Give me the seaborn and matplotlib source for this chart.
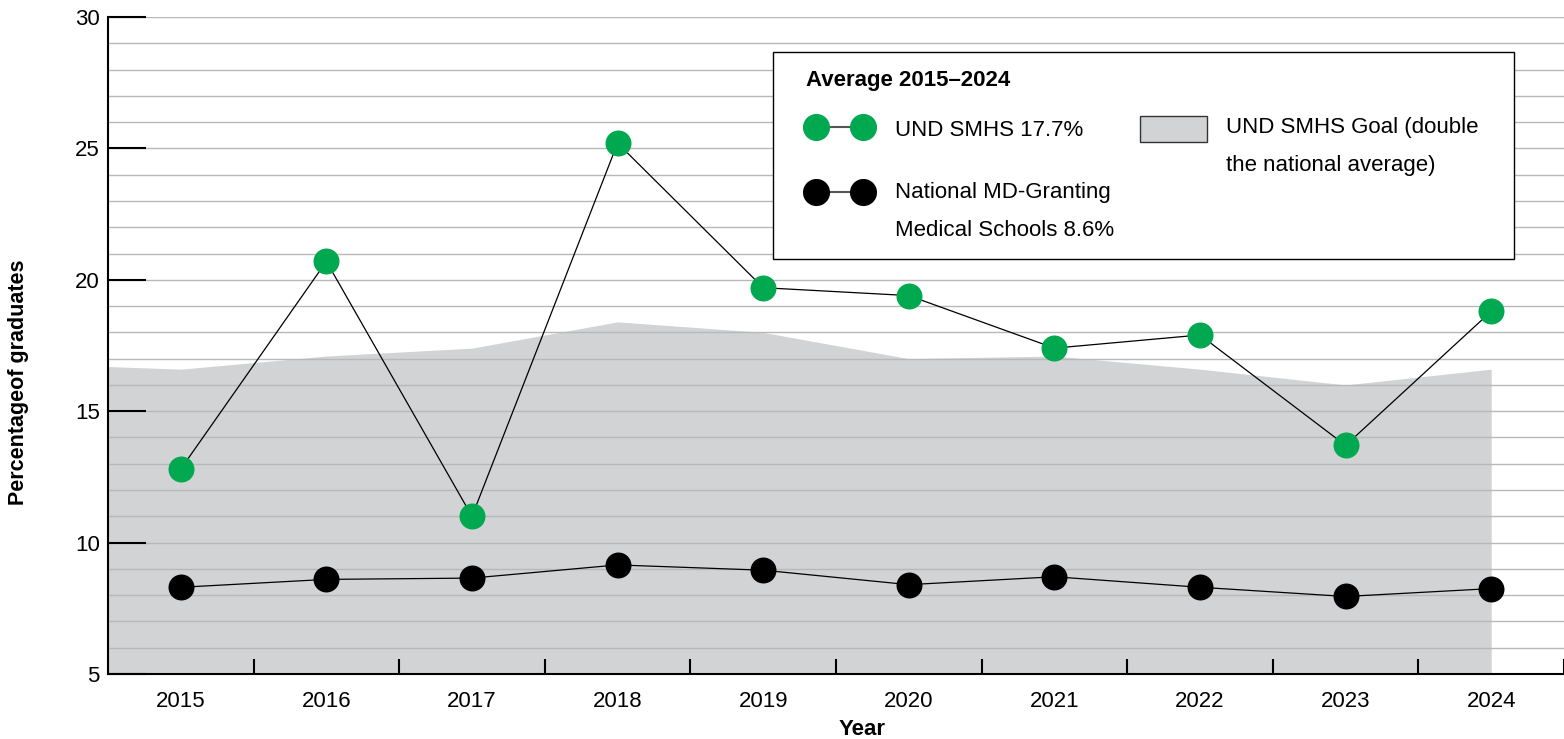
import matplotlib
matplotlib.use("Agg")
import matplotlib.pyplot as plt
import seaborn as sns
import pandas as pd
import numpy as np
from matplotlib.lines import Line2D
from matplotlib.patches import Patch, Rectangle
from matplotlib.legend_handler import HandlerLine2D, HandlerPatch
from matplotlib.ticker import MultipleLocator

# ---- data ----
years = [2015, 2016, 2017, 2018, 2019, 2020, 2021, 2022, 2023, 2024]
und_smhs = [12.8, 20.7, 11.0, 25.2, 19.7, 19.4, 17.4, 17.9, 13.7, 18.8]
national = [8.3, 8.6, 8.65, 9.15, 8.95, 8.4, 8.7, 8.3, 7.95, 8.25]
goal = [16.6, 17.1, 17.4, 18.4, 18.0, 17.0, 17.1, 16.6, 16.0, 16.6]
goal_left_edge = 16.7

legend_title = "Average 2015–2024"
smhs_label = "UND SMHS 17.7%"
national_label = "National MD-Granting\nMedical Schools 8.6%"
goal_label = "UND SMHS Goal (double\nthe national average)"

GREEN = "#00a94f"
FILL = "#d1d3d4"
GRID = "#b8b8b8"
XMIN, XMAX = 2014.5, 2024.5
LINESPACING = 2.05

df = pd.DataFrame({"year": years, "und_smhs": und_smhs, "national": national})

sns.set_theme(style="white")
plt.rcParams["font.family"] = ["Liberation Sans", "DejaVu Sans"]
plt.rcParams.update({"text.color": "black", "axes.labelcolor": "black",
                     "xtick.color": "black", "ytick.color": "black"})


class ShiftedLineHandler(HandlerLine2D):
    """line+marker handle, moved up so it sits on the first text line"""
    def __init__(self, dy=0.0, **kw):
        super().__init__(**kw)
        self.dy = dy

    def create_artists(self, legend, orig_handle, xdescent, ydescent,
                       width, height, fontsize, trans):
        arts = super().create_artists(legend, orig_handle, xdescent, ydescent,
                                      width, height, fontsize, trans)
        for a in arts:
            a.set_ydata(np.asarray(a.get_ydata()) + self.dy * fontsize)
        return arts


def goal_patch(legend, orig_handle, xdescent, ydescent, width, height, fontsize):
    h = 1.2 * fontsize
    cy = height / 2 - ydescent + 0.8 * fontsize
    return Rectangle((-xdescent, cy - h / 2), width, h)


fig = plt.figure(figsize=(15.64, 7.39), dpi=100)
ax = fig.add_axes([0.06905, 0.08796, 0.93095, 0.8890])

# goal area
ax.fill_between([XMIN] + years, [goal_left_edge] + goal, 0,
                color=FILL, lw=0, zorder=0.2)

# series
sns.lineplot(data=df, x="year", y="und_smhs", color="black", lw=0.9, ax=ax, zorder=2)
sns.scatterplot(data=df, x="year", y="und_smhs", color=GREEN, s=350,
                linewidth=0, ax=ax, zorder=3)
sns.lineplot(data=df, x="year", y="national", color="black", lw=0.9, ax=ax, zorder=2)
sns.scatterplot(data=df, x="year", y="national", color="black", s=350,
                linewidth=0, ax=ax, zorder=3)

# axes
ax.set_xlim(XMIN, XMAX)
ax.set_ylim(5, 30)
ax.set_xticks(years)
ax.set_xticklabels([str(y) for y in years])
ax.set_xticks([y + 0.5 for y in years], minor=True)
ax.tick_params(axis="x", which="major", length=0, pad=12, labelsize=16, colors="black")
ax.tick_params(axis="x", which="minor", direction="in", length=11, width=1.5,
               color="black", bottom=True)
ax.set_yticks(range(5, 31, 5))
ax.yaxis.set_minor_locator(MultipleLocator(1))
ax.tick_params(axis="y", which="major", direction="in", length=27, width=1.5,
               pad=6, labelsize=16, color="black", labelcolor="black", left=True)
ax.tick_params(axis="y", which="minor", length=0)
ax.grid(True, axis="y", which="both", color=GRID, lw=1)
ax.grid(False, axis="x")
ax.set_axisbelow(True)

for s in ["top", "right"]:
    ax.spines[s].set_visible(False)
for s in ["left", "bottom"]:
    ax.spines[s].set_color("black")
    ax.spines[s].set_linewidth(1.5)

ax.set_ylabel("Percentageof graduates", fontsize=15.5, fontweight="bold", color="black")
ax.yaxis.set_label_coords(-0.0543, 0.444)
ax.set_xlabel("Year", fontsize=16, fontweight="bold", color="black")
ax.xaxis.set_label_coords(0.518, -0.0685)

# ---- legend: white box + three frameless legends inside ----
ax.add_patch(Rectangle((0.4567, 0.6317), 0.5090, 0.315, transform=ax.transAxes,
                       facecolor="white", edgecolor="black", lw=1.0, zorder=4))

common = dict(loc="upper left", borderaxespad=0, borderpad=0, frameon=False,
              fontsize=16, handlelength=3.0, handleheight=1.2, labelcolor="black")

h_smhs = Line2D([], [], color="#555555", lw=1.5, marker="o", ms=18.5,
                mfc=GREEN, mec=GREEN)
leg_a = ax.legend([h_smhs], [smhs_label], title=legend_title,
                  bbox_to_anchor=(0.4794, 0.9193),
                  title_fontproperties={"weight": "bold", "size": 16},
                  alignment="left", numpoints=2, handletextpad=1.0,
                  labelspacing=1.18,
                  handler_map={h_smhs: ShiftedLineHandler(0.0, marker_pad=0.44)},
                  **common)
leg_a.get_title().set_color("black")
ax.add_artist(leg_a)

h_nat = Line2D([], [], color="#555555", lw=1.5, marker="o", ms=18.5,
               mfc="black", mec="black")
leg_b = ax.legend([h_nat], [national_label], bbox_to_anchor=(0.4794, 0.7489),
                  numpoints=2, handletextpad=1.0,
                  handler_map={h_nat: ShiftedLineHandler(0.8, marker_pad=0.44)},
                  **common)
for t in leg_b.get_texts():
    t.set_linespacing(LINESPACING)
ax.add_artist(leg_b)

h_goal = Patch(facecolor=FILL, edgecolor="#333333", lw=1)
leg_c = ax.legend([h_goal], [goal_label], bbox_to_anchor=(0.7088, 0.8478),
                  handletextpad=0.86,
                  handler_map={h_goal: HandlerPatch(patch_func=goal_patch)},
                  **common)
for t in leg_c.get_texts():
    t.set_linespacing(LINESPACING)

fig.savefig("out.png", dpi=100)
